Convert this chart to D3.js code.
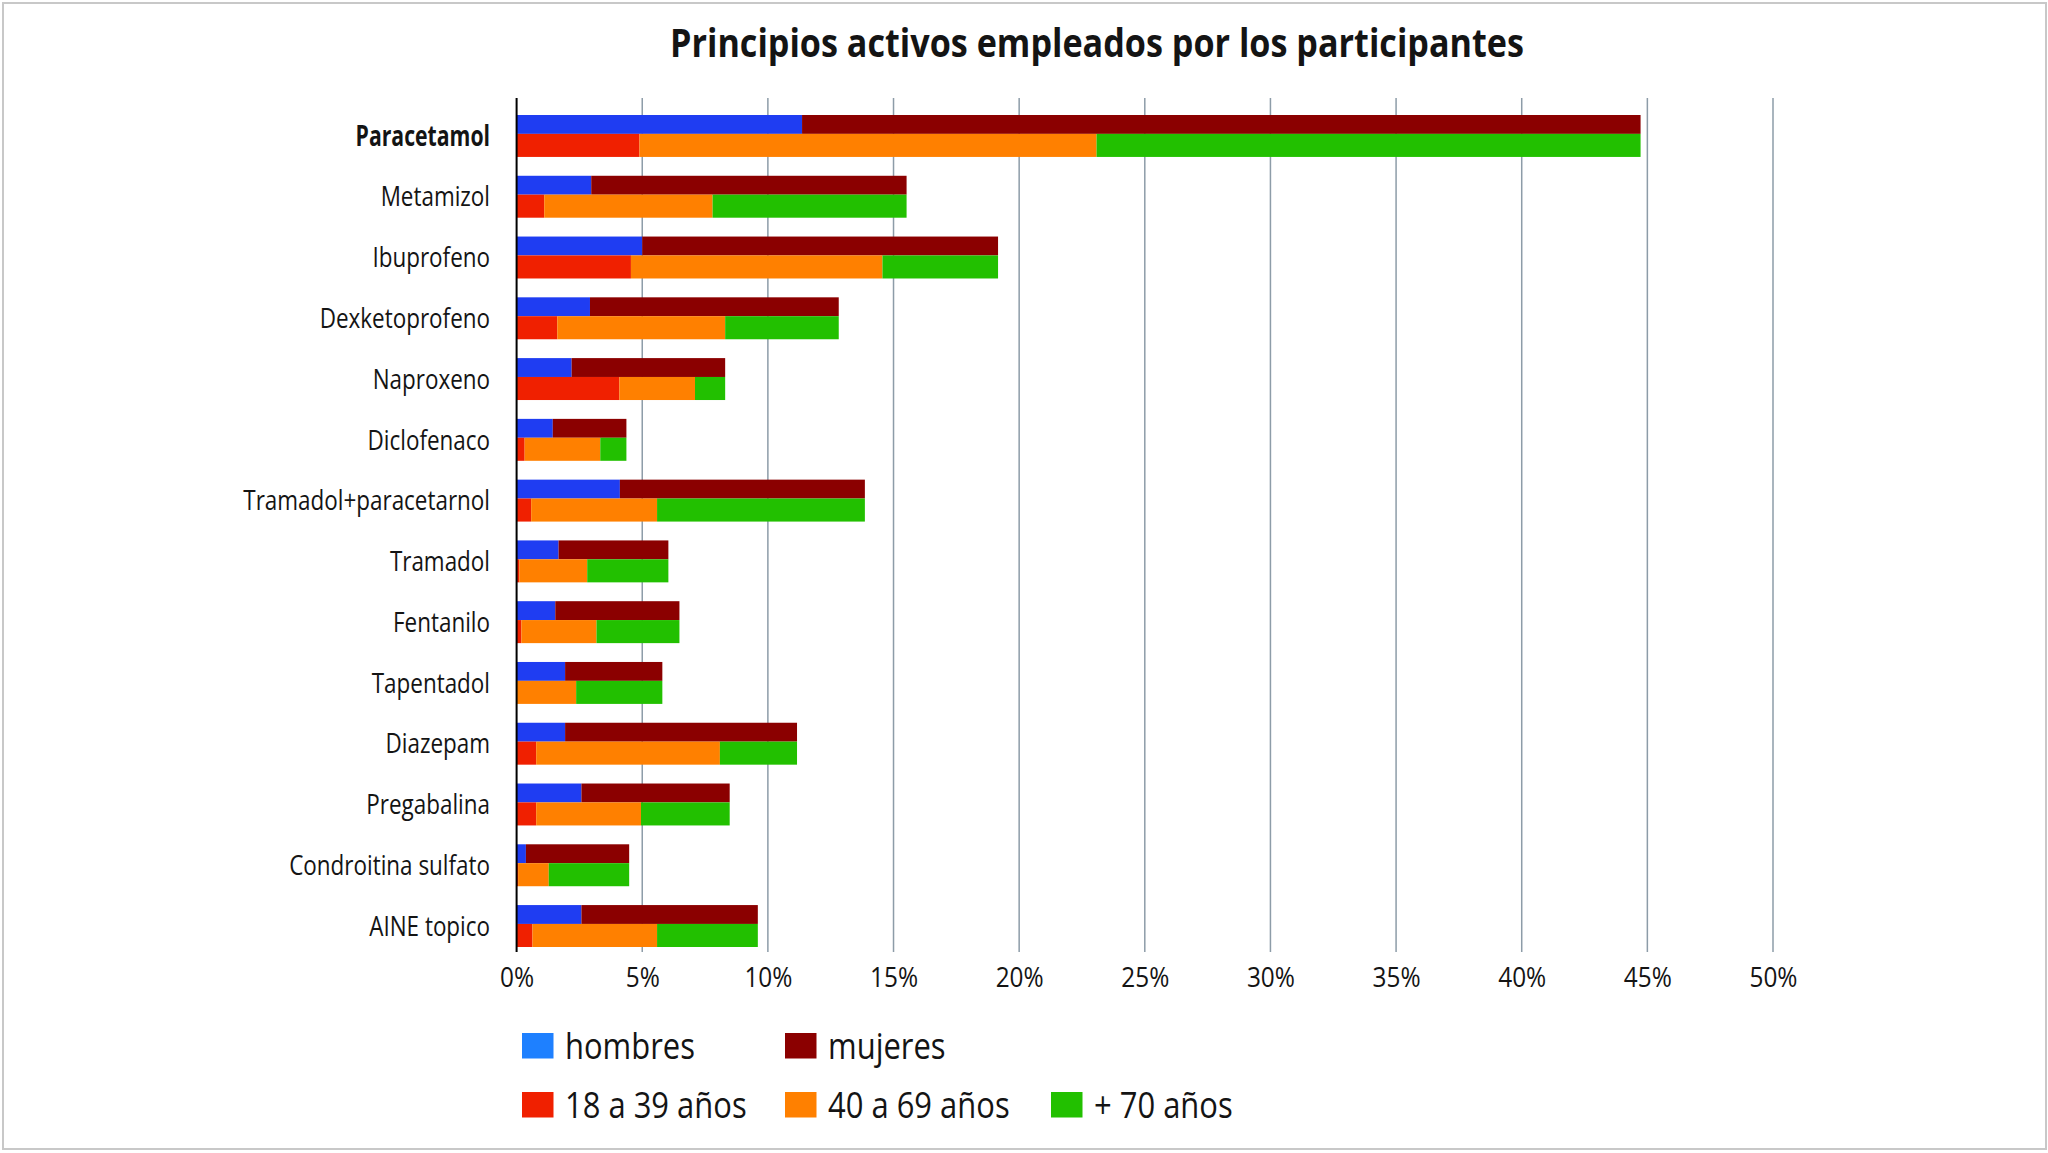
<!DOCTYPE html>
<html>
<head>
<meta charset="utf-8">
<script src="https://cdn.jsdelivr.net/npm/d3@7"></script>
<style>
  html, body { margin: 0; padding: 0; background: #fff; }
  svg { display: block; }
  text { font-family: 'Open Sans', 'Liberation Sans', sans-serif; fill: #141414; }
</style>
</head>
<body>
<svg id="chart" width="2048" height="1153"></svg>
<script>
// ---- DATA (percent of participants) ----
const categories = ["Paracetamol","Metamizol","Ibuprofeno","Dexketoprofeno","Naproxeno","Diclofenaco",
  "Tramadol+paracetarnol","Tramadol","Fentanilo","Tapentadol","Diazepam","Pregabalina",
  "Condroitina sulfato","AINE topico"];
const hombres   = [11.36, 2.97, 5.00, 2.92, 2.19, 1.44, 4.11, 1.67, 1.54, 1.93, 1.93, 2.58, 0.37, 2.58];
const mujeres   = [33.37, 12.55, 14.16, 9.90, 6.11, 2.93, 9.75, 4.37, 4.94, 3.87, 9.23, 5.90, 4.11, 7.02];
const edad18_39 = [4.89, 1.10, 4.55, 1.62, 4.09, 0.32, 0.58, 0.11, 0.19, 0.00, 0.78, 0.78, 0.06, 0.63];
const edad40_69 = [18.19, 6.70, 10.01, 6.68, 3.01, 3.01, 5.01, 2.70, 2.99, 2.37, 7.31, 4.17, 1.22, 4.96];
const edad70    = [21.65, 7.72, 4.60, 4.52, 1.20, 1.04, 8.27, 3.23, 3.30, 3.43, 3.07, 3.53, 3.20, 4.01];
const tickValues = [0, 5, 10, 15, 20, 25, 30, 35, 40, 45, 50];
const title = "Principios activos empleados por los participantes";
const sexKeys = ["hombres", "mujeres"];
const ageKeys = ["18 a 39 años", "40 a 69 años", "+ 70 años"];

// ---- STYLE ----
const barColors = {"hombres":"#1f3df2","mujeres":"#8b0000","18 a 39 años":"#f02000","40 a 69 años":"#ff8000","+ 70 años":"#22c000"};
const legendColors = {"hombres":"#1e80ff","mujeres":"#8b0000","18 a 39 años":"#f02000","40 a 69 años":"#ff8000","+ 70 años":"#22c000"};

const svg = d3.select("#chart");

// measure helper for condensing text horizontally (the reference uses a condensed face)
function measure(txt, size, weight) {
  const t = svg.append("text").attr("font-size", size).attr("font-weight", weight).text(txt);
  const w = t.node().getComputedTextLength();
  t.remove();
  return w;
}
const labelSize = 27, labelSX = 246.8 / measure("Tramadol+paracetarnol", labelSize, "normal");
const boldSX = 134.5 / measure("Paracetamol", labelSize + 1, "bold");
const tickSize = 28, tickSX = 48 / measure("10%", tickSize, "normal");
const legendSize = 36, legendSX = 181.7 / measure("18 a 39 años", legendSize, "normal");
const titleSize = 40, titleSX = 854 / measure(title, titleSize, "bold");

// border frame
svg.append("rect").attr("x", 3).attr("y", 3).attr("width", 2043).attr("height", 1146)
  .attr("fill", "none").attr("stroke", "#c8c8c8").attr("stroke-width", 2);

const plotTop = 98, plotBottom = 952;
const x = d3.scaleLinear().domain([0, 50]).range([516.6, 1773]);
const y = d3.scaleBand().domain(categories).range([115, 947]).paddingInner(0.31);

const rows = categories.map((c, i) => ({
  cat: c,
  "hombres": hombres[i], "mujeres": mujeres[i],
  "18 a 39 años": edad18_39[i], "40 a 69 años": edad40_69[i], "+ 70 años": edad70[i]
}));

// gridlines
svg.append("g").selectAll("line").data(tickValues.filter(t => t > 0)).join("line")
  .attr("x1", d => x(d)).attr("x2", d => x(d))
  .attr("y1", plotTop).attr("y2", plotBottom)
  .attr("stroke", "#8d9ca8").attr("stroke-width", 1.5);

// bars
const sexStack = d3.stack().keys(sexKeys)(rows);
const ageStack = d3.stack().keys(ageKeys)(rows);
const topFrac = 0.45;

svg.append("g").selectAll("g").data(sexStack).join("g")
  .attr("fill", d => barColors[d.key])
  .selectAll("rect").data(d => d).join("rect")
  .attr("x", d => x(d[0]))
  .attr("width", d => Math.max(0, x(d[1]) - x(d[0])))
  .attr("y", d => y(d.data.cat))
  .attr("height", y.bandwidth() * topFrac);

svg.append("g").selectAll("g").data(ageStack).join("g")
  .attr("fill", d => barColors[d.key])
  .selectAll("rect").data(d => d).join("rect")
  .attr("x", d => x(d[0]))
  .attr("width", d => Math.max(0, x(d[1]) - x(d[0])))
  .attr("y", d => y(d.data.cat) + y.bandwidth() * topFrac)
  .attr("height", y.bandwidth() * (1 - topFrac));

// y axis line
svg.append("line").attr("x1", x(0)).attr("x2", x(0)).attr("y1", plotTop).attr("y2", plotBottom)
  .attr("stroke", "#000").attr("stroke-width", 2);

// category labels
svg.append("g").selectAll("text").data(categories).join("text")
  .attr("transform", d => `translate(490,${y(d) + y.bandwidth() / 2}) scale(${d === "Paracetamol" ? boldSX : labelSX},1)`)
  .attr("dy", "0.36em")
  .attr("text-anchor", "end")
  .attr("font-size", d => d === "Paracetamol" ? labelSize + 1 : labelSize)
  .attr("font-weight", d => d === "Paracetamol" ? "bold" : "normal")
  .text(d => d);

// x axis tick labels
const xAxis = d3.axisBottom(x).tickValues(tickValues).tickSize(0).tickPadding(0).tickFormat(d => d + "%");
const gx = svg.append("g").attr("transform", `translate(0, 977)`).call(xAxis);
gx.select(".domain").remove();
gx.attr("font-family", null).attr("font-size", null);
gx.selectAll("text").attr("font-size", tickSize).attr("dy", "0.36em").attr("y", 0)
  .attr("transform", `scale(${tickSX},1)`)
  .attr("fill", "#141414");

// title
svg.append("text").attr("transform", `translate(1097,57) scale(${titleSX},1)`).attr("text-anchor", "middle")
  .attr("font-size", titleSize).attr("font-weight", "bold").text(title);

// legend
const legendItems = [
  {key: "hombres", x: 522, y: 1033},
  {key: "mujeres", x: 785, y: 1033},
  {key: "18 a 39 años", x: 522, y: 1092},
  {key: "40 a 69 años", x: 785, y: 1092},
  {key: "+ 70 años", x: 1051, y: 1092}
];
const lg = svg.append("g").selectAll("g").data(legendItems).join("g")
  .attr("transform", d => `translate(${d.x},${d.y})`);
lg.append("rect").attr("width", 31.5).attr("height", 25.5).attr("fill", d => legendColors[d.key]);
lg.append("text").attr("transform", `translate(43,25.5) scale(${legendSX},1)`)
  .attr("font-size", legendSize).text(d => d.key);
</script>
</body>
</html>
